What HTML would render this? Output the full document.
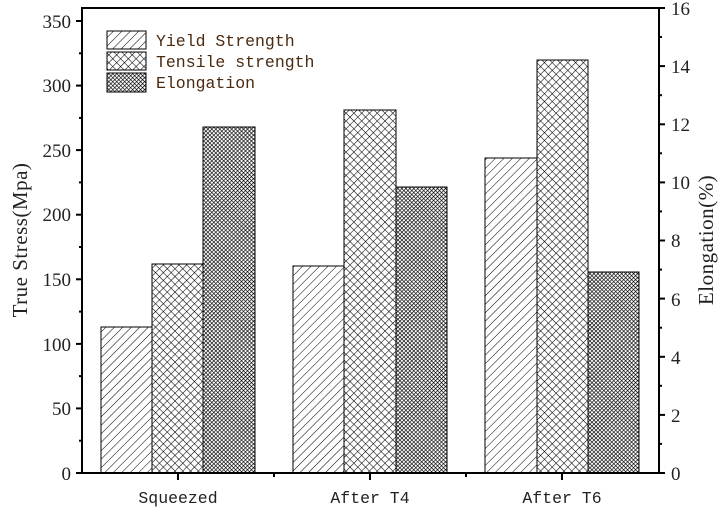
<!DOCTYPE html>
<html><head><meta charset="utf-8"><style>body{margin:0;background:#fff}svg{display:block}</style></head><body>
<svg width="721" height="508" viewBox="0 0 721 508" xmlns="http://www.w3.org/2000/svg">
<defs>
<pattern id="diag" patternUnits="userSpaceOnUse" width="6" height="6" patternTransform="rotate(45)"><rect width="6" height="6" fill="#fff"/><line x1="0" y1="0" x2="0" y2="6" stroke="#000" stroke-width="1"/></pattern>
<pattern id="cross" patternUnits="userSpaceOnUse" width="5.5" height="5.5" patternTransform="rotate(45)"><rect width="5.5" height="5.5" fill="#fff"/><line x1="0" y1="0" x2="0" y2="5.5" stroke="#000" stroke-width="1.1"/><line x1="0" y1="0" x2="5.5" y2="0" stroke="#000" stroke-width="1.1"/></pattern>
<pattern id="dense" patternUnits="userSpaceOnUse" width="2.8" height="2.8" patternTransform="rotate(45)"><rect width="2.8" height="2.8" fill="#fff"/><line x1="0" y1="0" x2="0" y2="2.8" stroke="#000" stroke-width="1.3"/><line x1="0" y1="0" x2="2.8" y2="0" stroke="#000" stroke-width="1.3"/></pattern>
</defs>
<g stroke="#000" stroke-width="1">
<rect x="101" y="327" width="51" height="146" fill="url(#diag)"/>
<rect x="152" y="264" width="51" height="209" fill="url(#cross)"/>
<rect x="203" y="127" width="52" height="346" fill="url(#dense)"/>
<rect x="293" y="266" width="51" height="207" fill="url(#diag)"/>
<rect x="344" y="110" width="52" height="363" fill="url(#cross)"/>
<rect x="396" y="187" width="51" height="286" fill="url(#dense)"/>
<rect x="485" y="158" width="52" height="315" fill="url(#diag)"/>
<rect x="537" y="60" width="51" height="413" fill="url(#cross)"/>
<rect x="588" y="272" width="51" height="201" fill="url(#dense)"/>
<rect x="107" y="31" width="39" height="18" fill="url(#diag)"/>
<rect x="107" y="52" width="39" height="18" fill="url(#cross)"/>
<rect x="107" y="73" width="39" height="19" fill="url(#dense)"/>
</g>
<rect x="82" y="8" width="577" height="465" fill="none" stroke="#000" stroke-width="2"/>
<g stroke="#000" stroke-width="2">
<line x1="76" y1="473" x2="82" y2="473"/><line x1="76" y1="408.4" x2="82" y2="408.4"/><line x1="76" y1="343.9" x2="82" y2="343.9"/><line x1="76" y1="279.3" x2="82" y2="279.3"/><line x1="76" y1="214.7" x2="82" y2="214.7"/><line x1="76" y1="150.1" x2="82" y2="150.1"/><line x1="76" y1="85.6" x2="82" y2="85.6"/><line x1="76" y1="21" x2="82" y2="21"/>
<line x1="79" y1="440.7" x2="82" y2="440.7"/><line x1="79" y1="376.1" x2="82" y2="376.1"/><line x1="79" y1="311.6" x2="82" y2="311.6"/><line x1="79" y1="247" x2="82" y2="247"/><line x1="79" y1="182.4" x2="82" y2="182.4"/><line x1="79" y1="117.9" x2="82" y2="117.9"/><line x1="79" y1="53.3" x2="82" y2="53.3"/>
<line x1="659" y1="473" x2="665" y2="473"/><line x1="659" y1="414.9" x2="665" y2="414.9"/><line x1="659" y1="356.8" x2="665" y2="356.8"/><line x1="659" y1="298.6" x2="665" y2="298.6"/><line x1="659" y1="240.5" x2="665" y2="240.5"/><line x1="659" y1="182.4" x2="665" y2="182.4"/><line x1="659" y1="124.3" x2="665" y2="124.3"/><line x1="659" y1="66.1" x2="665" y2="66.1"/><line x1="659" y1="8" x2="665" y2="8"/>
<line x1="659" y1="443.9" x2="662" y2="443.9"/><line x1="659" y1="385.8" x2="662" y2="385.8"/><line x1="659" y1="327.7" x2="662" y2="327.7"/><line x1="659" y1="269.6" x2="662" y2="269.6"/><line x1="659" y1="211.4" x2="662" y2="211.4"/><line x1="659" y1="153.3" x2="662" y2="153.3"/><line x1="659" y1="95.2" x2="662" y2="95.2"/><line x1="659" y1="37" x2="662" y2="37"/>
<line x1="178" y1="473" x2="178" y2="480"/><line x1="370" y1="473" x2="370" y2="480"/><line x1="562" y1="473" x2="562" y2="480"/>
<line x1="274" y1="473" x2="274" y2="477"/><line x1="466" y1="473" x2="466" y2="477"/>
</g>
<g font-family="Liberation Serif, serif" font-size="19" fill="#222" text-anchor="end">
<text x="71" y="480">0</text><text x="71" y="415">50</text><text x="71" y="351">100</text><text x="71" y="286">150</text><text x="71" y="221">200</text><text x="71" y="157">250</text><text x="71" y="92">300</text><text x="71" y="28">350</text>
</g>
<g font-family="Liberation Serif, serif" font-size="19" fill="#222" text-anchor="start">
<text x="671" y="480">0</text><text x="671" y="422">2</text><text x="671" y="364">4</text><text x="671" y="306">6</text><text x="671" y="247">8</text><text x="671" y="189">10</text><text x="671" y="131">12</text><text x="671" y="73">14</text><text x="671" y="15">16</text>
</g>
<g font-family="Liberation Mono, monospace" font-size="16.5" fill="#222" text-anchor="middle">
<text x="178" y="503">Squeezed</text><text x="370" y="503">After T4</text><text x="562" y="503">After T6</text>
</g>
<text transform="translate(27,240) rotate(-90)" font-family="Liberation Serif, serif" font-size="21" fill="#222" text-anchor="middle" letter-spacing="0.5">True Stress(Mpa)</text>
<text transform="translate(713,240) rotate(-90)" font-family="Liberation Serif, serif" font-size="21" fill="#222" text-anchor="middle" letter-spacing="0.5">Elongation(%)</text>
<g font-family="Liberation Mono, monospace" font-size="16.5" fill="#4a2a10">
<text x="156" y="46">Yield Strength</text><text x="156" y="67">Tensile strength</text><text x="156" y="88">Elongation</text>
</g>
</svg>
</body></html>
